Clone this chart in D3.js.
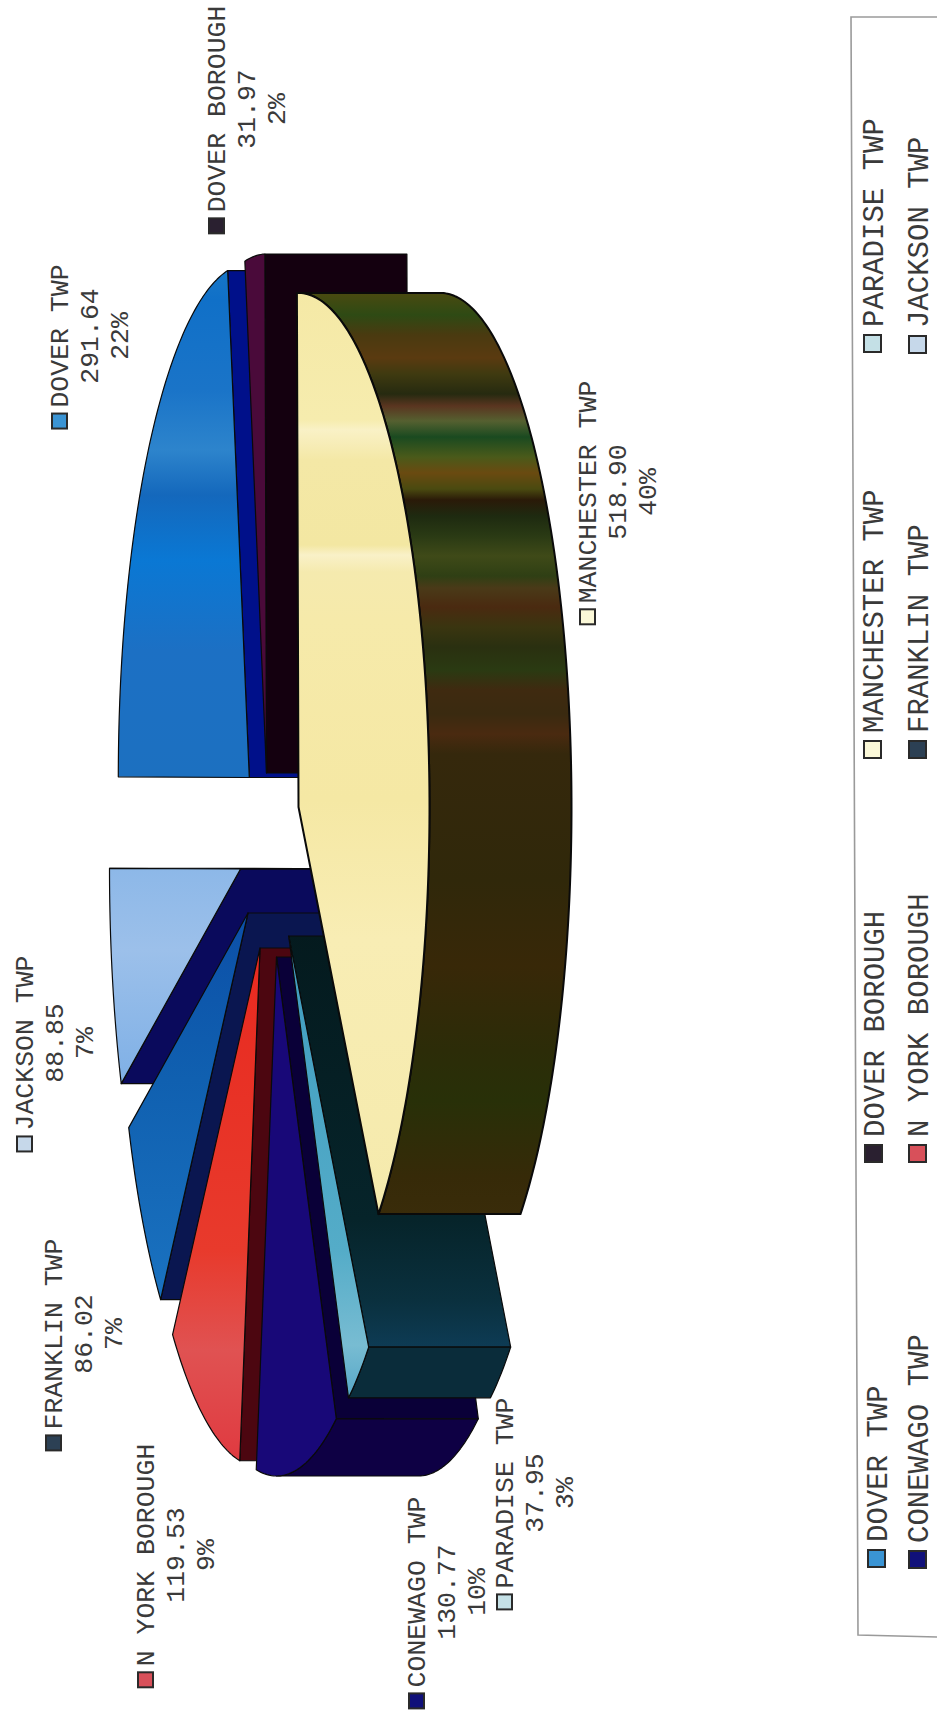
<!DOCTYPE html>
<html>
<head>
<meta charset="utf-8">
<script src="https://cdn.jsdelivr.net/npm/d3@7"></script>
<style>
  html, body { margin: 0; padding: 0; background: #fff; }
  text { font-family: "Liberation Mono", "DejaVu Sans Mono", monospace; fill: #3a3a3a; }
</style>
</head>
<body>
<div id="chart"></div>
<script>
// Chart data, in pie order (clockwise from the top of the ellipse)
const names = ["MANCHESTER TWP", "PARADISE TWP", "CONEWAGO TWP", "N YORK BOROUGH", "FRANKLIN TWP", "JACKSON TWP", "DOVER TWP", "DOVER BOROUGH"];
const values = [518.90, 37.95, 130.77, 119.53, 86.02, 88.85, 291.64, 31.97];
const percents = ["40%", "3%", "10%", "9%", "7%", "7%", "22%", "2%"];

// Legend reads in this order, two rows
const legendRowA = ["DOVER TWP", "DOVER BOROUGH", "MANCHESTER TWP", "PARADISE TWP"];
const legendRowB = ["CONEWAGO TWP", "N YORK BOROUGH", "FRANKLIN TWP", "JACKSON TWP"];

const width = 937, height = 1715;
const radiusX = 131, radiusY = 519, depth = 142;
const pieStart = -0.0122; // the pie is turned a hair so the Dover/Jackson cut runs level

// Where each exploded slice has its point, and its colours
const sliceStyle = {
  "MANCHESTER TWP": { cx: 298.5, cy: 807, ry: 514, top: "url(#bandYellow)", wall: "url(#bandOlive)", face: "#2a2a0a", swatch: "#fbf8d8", order: 7, sw: 2 },
  "PARADISE TWP": { cx: 288.7, cy: 936, top: "url(#bandCyan)", wall: "#0a2c3a", face: "url(#bandTeal)", swatch: "#c4e0e6", order: 6 },
  "CONEWAGO TWP": { cx: 276.5, cy: 957, top: "#180878", wall: "#0e0044", face: "#0a0038", swatch: "#10107a", order: 3 },
  "N YORK BOROUGH": { cx: 260, cy: 948, top: "url(#bandRed)", wall: "#4c0610", face: "#4c0610", swatch: "#d8505a", order: 2 },
  "FRANKLIN TWP": { cx: 248, cy: 913, top: "url(#bandBlue2)", wall: "#0a1650", face: "#0a1650", swatch: "#2c4054", order: 1 },
  "JACKSON TWP": { cx: 240.5, cy: 869, top: "url(#bandSky)", wall: "#0a0a5c", face: "#0a0a5c", swatch: "#c6d8ea", order: 0 },
  "DOVER TWP": { cx: 249.3, cy: 777.5, ry: 514, top: "url(#bandBlue)", wall: "#00108a", face: "#00108a", swatch: "#3a94d4", order: 4 },
  "DOVER BOROUGH": { cx: 266.5, cy: 773, top: "#4a0a3a", wall: "#14000f", face: "#14000f", swatch: "#2a2030", order: 5 }
};

// Text blocks round the pie: baseline of the first line, middle of the name
const labelPlace = {
  "MANCHESTER TWP": [596, 492],
  "PARADISE TWP": [513, 1493],
  "CONEWAGO TWP": [425, 1592],
  "N YORK BOROUGH": [154, 1555],
  "FRANKLIN TWP": [62, 1334],
  "JACKSON TWP": [33, 1043],
  "DOVER TWP": [68, 336],
  "DOVER BOROUGH": [225, 109]
};

// Legend entries: text baseline and where the text begins
const legendPlace = {
  "DOVER TWP": [887, 1542], "DOVER BOROUGH": [884, 1137], "MANCHESTER TWP": [883, 733], "PARADISE TWP": [883, 327],
  "CONEWAGO TWP": [928, 1543], "N YORK BOROUGH": [928, 1137], "FRANKLIN TWP": [928, 733], "JACKSON TWP": [928, 328]
};

// Scan banding on the faces: page y and colour
const bands = {
  bandOlive: [[293, "#4a4a10"], [315, "#2e4a14"], [335, "#4a3a10"], [358, "#5a3a10"], [374, "#3f3a10"], [394, "#262a10"],
    [406, "#5a3520"], [421, "#556030"], [437, "#1a4a20"], [457, "#4a5a1a"], [473, "#6a4a10"], [489, "#4a4a10"], [500, "#2a1a08"],
    [516, "#1e2a10"], [536, "#2a3a14"], [556, "#3f4a18"], [576, "#2f3f14"], [588, "#4a3a18"], [607, "#4a2a10"], [627, "#3a3510"],
    [647, "#2a3010"], [670, "#2a3a12"], [690, "#3f2a10"], [714, "#3a2a10"], [734, "#4a2a10"], [754, "#35280c"], [880, "#30280a"],
    [966, "#382808"], [1050, "#2c2c08"], [1100, "#283008"], [1177, "#362a08"], [1219, "#3a2c0a"]],
  bandYellow: [[293, "#f5e9a6"], [420, "#f6ecae"], [430, "#f9f1c6"], [460, "#f4e8a6"], [545, "#f3e7a2"], [555, "#f9f1c8"],
    [572, "#f5eaae"], [620, "#f6eaaa"], [800, "#f5e8a4"], [940, "#f8edb4"], [1214, "#f5eaac"]],
  bandBlue: [[264, "#1878c8"], [300, "#1070c8"], [390, "#1a74c8"], [450, "#2d84cc"], [495, "#1468bc"], [560, "#0a78d4"], [650, "#1c70c4"], [780, "#1c70c0"]],
  bandBlue2: [[920, "#0c50a8"], [1080, "#1060b0"], [1300, "#1a72c0"]],
  bandSky: [[870, "#8db8e8"], [950, "#9cc0ea"], [1082, "#7fb0e6"]],
  bandRed: [[949, "#e82a20"], [1250, "#e83a2c"], [1350, "#e05252"], [1460, "#e03a40"]],
  bandCyan: [[930, "#3f9cc0"], [1250, "#54acc8"], [1345, "#78bcd2"], [1395, "#58a8c8"]],
  bandTeal: [[930, "#041a1e"], [1220, "#06242a"], [1300, "#0a303e"], [1350, "#0e3c56"]]
};

const svg = d3.select("#chart").append("svg")
  .attr("width", width)
  .attr("height", height)
  .attr("viewBox", [0, 0, width, height])
  .style("display", "block");

const defs = svg.append("defs");
Object.entries(bands).forEach(([id, stops]) => {
  const y0 = stops[0][0], y1 = stops[stops.length - 1][0];
  const grad = defs.append("linearGradient")
    .attr("id", id)
    .attr("gradientUnits", "userSpaceOnUse")
    .attr("x1", 0).attr("x2", 0).attr("y1", y0).attr("y2", y1);
  grad.selectAll("stop").data(stops).join("stop")
    .attr("offset", (d) => (d[0] - y0) / (y1 - y0))
    .attr("stop-color", (d) => d[1]);
});

const slices = d3.pie().sort(null).value((d) => d.value)
  .startAngle(pieStart).endAngle(pieStart + 2 * Math.PI)(
  names.map((name, i) => ({ name, value: values[i], percent: percents[i] }))
);

// Unit circle to the flattened ellipse of a slice
function project(s, angle) {
  const st = sliceStyle[s.data.name];
  const scaleX = d3.scaleLinear([-1, 1], [st.cx - radiusX, st.cx + radiusX]);
  const scaleY = d3.scaleLinear([-1, 1], [st.cy - (st.ry || radiusY), st.cy + (st.ry || radiusY)]);
  return [scaleX(Math.sin(angle)), scaleY(-Math.cos(angle))];
}

const line = d3.line();
const center = (s) => [sliceStyle[s.data.name].cx, sliceStyle[s.data.name].cy];
const shift = (p) => [p[0] + depth, p[1]];

function arcPoints(s, a0, a1) {
  const n = Math.max(2, Math.ceil((a1 - a0) * 60));
  return d3.range(n + 1).map((i) => project(s, a0 + (a1 - a0) * i / n));
}

const pie = svg.append("g");
slices.slice().sort((a, b) => sliceStyle[a.data.name].order - sliceStyle[b.data.name].order).forEach((s) => {
  const st = sliceStyle[s.data.name];
  const g = pie.append("g")
    .attr("stroke", "#0a0a0a")
    .attr("stroke-width", st.sw || 1.2)
    .attr("stroke-linejoin", "round");

  // radial walls that face the viewer
  [[s.startAngle, -Math.cos(s.startAngle)], [s.endAngle, Math.cos(s.endAngle)]].forEach(([angle, facing]) => {
    if (facing <= 0.001) return;
    const rim = project(s, angle), c = center(s);
    g.append("path")
      .attr("d", line([c, rim, shift(rim), shift(c)]) + "Z")
      .attr("fill", st.face);
  });

  // rim wall, only the part on the near side of the ellipse
  const a1 = Math.min(s.endAngle, Math.PI);
  if (s.startAngle < a1) {
    const rim = arcPoints(s, s.startAngle, a1);
    g.append("path")
      .attr("d", line(rim.concat(rim.map(shift).reverse())) + "Z")
      .attr("fill", st.wall);
  }

  // top of the slice
  g.append("path")
    .attr("d", line([center(s)].concat(arcPoints(s, s.startAngle, s.endAngle))) + "Z")
    .attr("fill", st.top);
});

function rotated(sel, x, y) {
  return sel.attr("transform", `translate(${x},${y}) rotate(-90)`);
}

// Slice labels
const labelSize = 26.5, charWidth = labelSize * 0.6, lineStep = 30;
const labels = svg.append("g").selectAll("g").data(slices).join("g");
labels.each(function (s) {
  const [x, y] = labelPlace[s.data.name];
  const g = d3.select(this);
  const lines = [s.data.name, d3.format(".2f")(s.data.value), s.data.percent];
  lines.forEach((t, i) => {
    g.append("text")
      .attr("font-size", labelSize)
      .attr("text-anchor", "middle")
      .call(rotated, x + i * lineStep, y)
      .text(t);
  });
  const textStart = y + s.data.name.length * charWidth / 2;
  g.append("rect")
    .attr("x", x - 16).attr("y", textStart + 6)
    .attr("width", 15).attr("height", 15)
    .attr("fill", sliceStyle[s.data.name].swatch)
    .attr("stroke", "#2a2a2a").attr("stroke-width", 2);
});

// Legend box, slightly skewed like the scan
svg.append("path")
  .attr("d", line([[width, 17], [851, 17], [858, 1635], [width, 1637]]))
  .attr("fill", "none")
  .attr("stroke", "#9a9a9a")
  .attr("stroke-width", 1.6);

const legendGroup = svg.append("g");
[legendRowA, legendRowB].forEach((row) => {
  row.forEach((name) => {
    const [x, y] = legendPlace[name];
    legendGroup.append("text")
      .attr("font-size", 29)
      .call(rotated, x, y)
      .text(name);
    legendGroup.append("rect")
      .attr("x", x - 19).attr("y", y + 8)
      .attr("width", 17).attr("height", 17)
      .attr("fill", sliceStyle[name].swatch)
      .attr("stroke", "#2a2a2a").attr("stroke-width", 2);
  });
});
</script>
</body>
</html>
